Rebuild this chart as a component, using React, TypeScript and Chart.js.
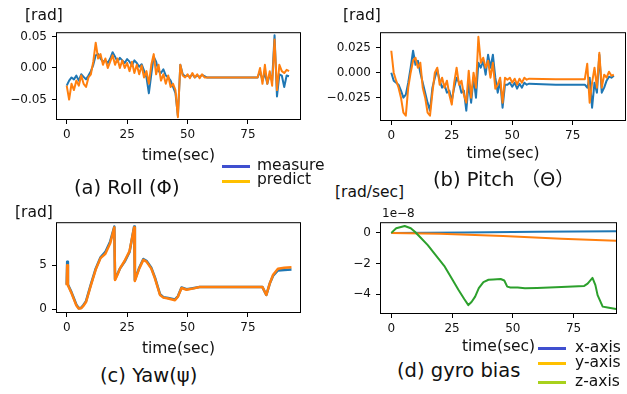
import React, { useEffect, useRef } from "react";
import { Chart, registerables } from "chart.js";

Chart.register(...registerables);
Chart.defaults.font.family = "DejaVu Sans";

// ---------- data ----------
const X_TICKS = [0, 25, 50, 75];
const X_TICK_LABELS = ["0", "25", "50", "75"];

// (a) Roll
const ROLL_TIME = [
  0, 1, 2, 3, 4, 5, 6, 7, 8, 9,
  10, 11, 12, 13, 14, 15, 16, 17, 18, 19,
  20, 21, 22, 23, 24, 25, 26, 27, 28, 29,
  30, 31, 32, 33, 34, 35, 36, 37, 38, 39,
  40, 41, 42, 43, 44, 45, 46, 47, 48, 49,
  50, 51, 52, 53, 54, 55, 56, 57, 58,
  68, 79,
  80, 81, 82, 83, 84, 85, 86, 87, 88, 89, 90, 91, 92,
];
const ROLL_MEASURE = [
  -0.028, -0.02, -0.015, -0.018, -0.012, -0.02, -0.01, -0.014, -0.018, -0.012,
  -0.005, 0.005, 0.02, 0.022, 0.015, 0.01, 0.012, 0.008, 0.015, 0.025,
  0.018, 0.01, 0.016, 0.012, 0.008, 0.014, 0.01, 0.004, 0.012, 0.008,
  0.002, 0.006, -0.004, -0.015, -0.04, -0.01, 0.018, 0.01, -0.005, -0.008,
  -0.002, -0.012, -0.015, -0.02, -0.03, -0.04, -0.076, 0.005, -0.01, -0.013,
  -0.012, -0.014, -0.01, -0.015, -0.012, -0.014, -0.011, -0.013, -0.015,
  -0.015, -0.015,
  -0.005, -0.02, -0.008, -0.025, -0.01, -0.02, 0.052, -0.045, -0.01, -0.012, -0.03, -0.012, -0.013,
];
const ROLL_PREDICT = [
  -0.028, -0.05, -0.025, -0.035, -0.02, -0.028, -0.012, -0.025, -0.03, -0.015,
  -0.01, 0.01, 0.04, 0.015, 0.022, 0.005, 0.015, 0.0, 0.01, 0.02,
  0.005, 0.015, 0.0, 0.012, 0.0, 0.008, -0.005, 0.01, -0.008, 0.005,
  -0.01, 0.004, -0.015, -0.005, -0.025, 0.005, 0.022, -0.01, 0.005, -0.02,
  -0.01, -0.025, -0.012, -0.03, -0.025, -0.035, -0.078, 0.005, -0.012, -0.015,
  -0.01, -0.016, -0.008, -0.015, -0.01, -0.016, -0.01, -0.015, -0.015,
  -0.015, -0.015,
  0.0, -0.025, 0.005, -0.025, -0.005, -0.028, 0.045, -0.035, 0.005, -0.005, -0.008, -0.003, -0.005,
];
const ROLL_Y_TICKS = [0.05, 0, -0.05];
const ROLL_Y_LABELS = ["0.05", "0.00", "\u22120.05"];

// (b) Pitch
const PITCH_TIME = [
  0, 1, 2, 3, 4, 5, 6, 7, 8, 9,
  10, 11, 12, 13, 14, 15, 16, 17, 18, 19,
  20, 21, 22, 23, 24, 25, 26, 27, 28, 29,
  30, 31, 32, 33, 34, 35, 36, 37, 38, 39,
  40, 41, 42, 43, 44, 45, 46, 47, 48, 49,
  50, 51, 52, 53, 54, 55, 56, 57,
  68, 80,
  81, 82, 83, 84, 85, 86, 87, 88, 89, 90, 91, 92,
];
const PITCH_MEASURE = [
  0.0, -0.008, -0.01, -0.012, -0.018, -0.025, -0.022, -0.01, 0.005, 0.022,
  0.008, 0.012, 0.0, -0.01, -0.02, -0.03, -0.038, -0.015, -0.005, 0.003,
  -0.008, -0.015, -0.012, -0.02, -0.018, -0.028, -0.015, -0.005, -0.01, -0.02,
  -0.018, -0.038, -0.01, -0.03, -0.005, -0.025, 0.01, 0.005, 0.012, -0.002,
  0.018, 0.005, 0.018, -0.005, -0.02, -0.008, -0.035, -0.012, -0.012, -0.01,
  -0.014, -0.01, -0.016, -0.011, -0.015, -0.01, -0.012, -0.011,
  -0.012, -0.012,
  -0.015, -0.005, -0.035, -0.01, -0.02, 0.018, -0.02, -0.015, -0.008, -0.004, -0.005, -0.003,
];
const PITCH_PREDICT = [
  0.022, 0.0, -0.008, -0.015, -0.025, -0.04, -0.043, -0.015, 0.0, 0.012,
  0.015, 0.005, 0.01, -0.015, -0.025, -0.04, -0.043, -0.02, 0.0, 0.005,
  -0.012, -0.005, -0.015, -0.008, -0.022, -0.032, -0.01, 0.005, -0.012, -0.008,
  -0.022, -0.03, 0.002, -0.025, 0.0, -0.015, 0.036, 0.01, 0.015, 0.005,
  0.012, -0.005, 0.01, -0.016, -0.012, -0.005, -0.03, -0.005, -0.007, -0.005,
  -0.01, -0.006, -0.012, -0.006, -0.01, -0.005, -0.007, -0.006,
  -0.0065, -0.0065,
  0.009, -0.03, -0.01, 0.005, -0.015, 0.02, -0.015, -0.002, -0.005, 0.001, -0.003, -0.002,
];
const PITCH_Y_TICKS = [0.025, 0, -0.025];
const PITCH_Y_LABELS = ["0.025", "0.000", "\u22120.025"];

// (c) Yaw
const YAW_TIME = [
  0, 0.2, 0.5, 2, 3, 4, 5, 6, 7, 8,
  10, 12, 14, 16, 18, 19.7, 20, 21, 22, 24,
  26, 27.9, 28.2, 30, 31.7, 33, 35, 36.5, 38.6, 40,
  42, 44.8, 46, 47.5, 49.6, 51.6, 55, 60, 70, 81,
  82.6, 84, 85.4, 87.4, 90, 93,
];
const YAW_MEASURE = [
  2.8, 5.4, 2.8, 1.9, 1.2, 0.5, 0.1, 0.15, 0.5, 0.9,
  2.8, 4.6, 5.9, 6.5, 7.7, 9.4, 3.4, 4.0, 4.6, 5.4,
  6.5, 9.4, 3.3, 4.7, 5.7, 5.5, 4.7, 3.6, 1.7, 1.35,
  1.25, 1.1, 1.45, 2.45, 2.25, 2.35, 2.5, 2.5, 2.5, 2.5,
  1.6, 2.9, 3.8, 4.4, 4.45, 4.5,
];
const YAW_PREDICT = [
  2.7, 5.0, 2.7, 1.8, 1.1, 0.4, 0.05, 0.1, 0.4, 0.8,
  2.7, 4.5, 5.8, 6.3, 7.5, 9.3, 3.3, 3.9, 4.6, 5.5,
  6.6, 9.3, 3.2, 4.6, 5.6, 5.4, 4.6, 3.5, 1.6, 1.3,
  1.2, 1.0, 1.4, 2.4, 2.2, 2.3, 2.5, 2.5, 2.5, 2.5,
  1.6, 2.9, 3.9, 4.6, 4.7, 4.75,
];
const YAW_Y_TICKS = [5, 0];
const YAW_Y_LABELS = ["5", "0"];

// (d) gyro bias, values in units of 1e-8 rad/sec
const GYRO_X_TIME = [0, 30, 60, 92.5];
const GYRO_X = [0, 0.03, 0.07, 0.1];
const GYRO_Y_TIME = [0, 20, 46, 70, 92.5];
const GYRO_Y = [0, -0.06, -0.21, -0.38, -0.52];
const GYRO_Z_TIME = [
  0, 2, 5.5, 8, 9.7, 12, 15, 18, 22, 25,
  27.6, 30, 31.7, 33, 34.5, 36, 37.9, 40, 42, 45,
  46.5, 47.7, 49, 52, 55, 60, 70, 79.4, 80.8, 82.8,
  84, 84.9, 87, 89, 92.5,
];
const GYRO_Z = [
  0, 0.3, 0.45, 0.3, 0.07, -0.3, -0.8, -1.4, -2.2, -3.0,
  -3.7, -4.3, -4.7, -4.5, -4.15, -3.6, -3.2, -3.05, -3.03, -3.0,
  -3.1, -3.5, -3.55, -3.55, -3.6, -3.58, -3.52, -3.45, -3.3, -2.93,
  -3.4, -4.05, -4.8, -4.85, -4.95,
];
const GYRO_Y_TICKS = [0, -2, -4];
const GYRO_Y_LABELS = ["0", "\u22122", "\u22124"];

// ---------- styling ----------
const C_BLUE = "#1f77b4";
const C_ORANGE = "#ff7f0e";
const C_GREEN = "#2ca02c";

type Series = { time: number[]; values: number[]; color: string; order: number; width: number };
type PlotSpec = {
  x: number; y: number; w: number; h: number;
  yAxisWidth: number; xAxisHeight: number; padTop: number; padRight: number;
  xMin: number; xMax: number; yMin: number; yMax: number;
  yTicks: number[]; yLabels: string[];
  series: Series[];
};

const framePlugin = {
  id: "frame",
  afterDatasetsDraw(chart: any) {
    const { ctx, chartArea: a } = chart;
    ctx.save();
    ctx.strokeStyle = "#000";
    ctx.lineWidth = 1;
    ctx.strokeRect(a.left + 0.5, a.top + 0.5, a.right - a.left - 1, a.bottom - a.top - 1);
    ctx.restore();
  },
};

function Plot({ spec }: { spec: PlotSpec }) {
  const ref = useRef<HTMLCanvasElement | null>(null);
  useEffect(() => {
    if (!ref.current) return;
    const tickFont = { family: "DejaVu Sans", size: 12 };
    const chart = new Chart(ref.current, {
      type: "line",
      data: {
        datasets: spec.series.map((s) => ({
          data: s.time.map((t, i) => ({ x: t, y: s.values[i] })),
          borderColor: s.color,
          backgroundColor: s.color,
          borderWidth: s.width,
          borderJoinStyle: "round" as const,
          pointRadius: 0,
          tension: 0,
          fill: false,
          order: s.order,
        })),
      },
      options: {
        animation: false,
        responsive: false,
        devicePixelRatio: 1,
        events: [],
        layout: { padding: { top: spec.padTop, right: spec.padRight, left: 0, bottom: 0 } },
        plugins: { legend: { display: false }, tooltip: { enabled: false } },
        scales: {
          x: {
            type: "linear",
            min: spec.xMin,
            max: spec.xMax,
            afterBuildTicks: (s: any) => {
              s.ticks = X_TICKS.map((v) => ({ value: v }));
            },
            afterFit: (s: any) => {
              s.height = spec.xAxisHeight;
            },
            ticks: {
              font: tickFont,
              color: "#111",
              padding: 4,
              maxRotation: 0,
              autoSkip: false,
              callback: (_v: any, i: number) => X_TICK_LABELS[i],
            },
            grid: { drawOnChartArea: false, drawTicks: true, tickLength: 4, color: "#000", lineWidth: 1 },
            border: { display: false },
            title: {
              display: true,
              text: "time(sec)",
              font: { family: "DejaVu Sans", size: 15.5 },
              color: "#111",
              padding: 0,
            },
          },
          y: {
            type: "linear",
            min: spec.yMin,
            max: spec.yMax,
            afterBuildTicks: (s: any) => {
              s.ticks = spec.yTicks.map((v) => ({ value: v }));
            },
            afterFit: (s: any) => {
              s.width = spec.yAxisWidth;
            },
            ticks: {
              font: tickFont,
              color: "#111",
              padding: 5,
              autoSkip: false,
              callback: (_v: any, i: number) => spec.yLabels[i],
            },
            grid: { drawOnChartArea: false, drawTicks: true, tickLength: 4, color: "#000", lineWidth: 1 },
            border: { display: false },
          },
        },
      },
      plugins: [framePlugin],
    } as any);
    return () => chart.destroy();
  }, [spec]);
  return (
    <canvas
      ref={ref}
      width={spec.w}
      height={spec.h}
      style={{ position: "absolute", left: spec.x, top: spec.y, width: spec.w, height: spec.h }}
    />
  );
}

const PLOTS: PlotSpec[] = [
  {
    x: 0, y: 20, w: 310, h: 145, yAxisWidth: 56, xAxisHeight: 45, padTop: 10, padRight: 9,
    xMin: -4.43, xMax: 96.94, yMin: -0.0824, yMax: 0.0567,
    yTicks: ROLL_Y_TICKS, yLabels: ROLL_Y_LABELS,
    series: [
      { time: ROLL_TIME, values: ROLL_MEASURE, color: C_BLUE, order: 2, width: 2 },
      { time: ROLL_TIME, values: ROLL_PREDICT, color: C_ORANGE, order: 1, width: 2 },
    ],
  },
  {
    x: 320, y: 20, w: 307, h: 143, yAxisWidth: 60, xAxisHeight: 42, padTop: 9, padRight: 1,
    xMin: -4.67, xMax: 97.02, yMin: -0.0484, yMax: 0.0406,
    yTicks: PITCH_Y_TICKS, yLabels: PITCH_Y_LABELS,
    series: [
      { time: PITCH_TIME, values: PITCH_MEASURE, color: C_BLUE, order: 2, width: 2 },
      { time: PITCH_TIME, values: PITCH_PREDICT, color: C_ORANGE, order: 1, width: 2 },
    ],
  },
  {
    x: 0, y: 210, w: 310, h: 148, yAxisWidth: 56, xAxisHeight: 45, padTop: 12, padRight: 9,
    xMin: -4.43, xMax: 96.94, yMin: -0.45, yMax: 9.89,
    yTicks: YAW_Y_TICKS, yLabels: YAW_Y_LABELS,
    series: [
      { time: YAW_TIME, values: YAW_MEASURE, color: C_BLUE, order: 2, width: 2.5 },
      { time: YAW_TIME, values: YAW_PREDICT, color: C_ORANGE, order: 1, width: 2.5 },
    ],
  },
  {
    x: 320, y: 210, w: 300, h: 146, yAxisWidth: 60, xAxisHeight: 42, padTop: 12, padRight: 3,
    xMin: -4.67, xMax: 92.89, yMin: -5.28, yMax: 0.695,
    yTicks: GYRO_Y_TICKS, yLabels: GYRO_Y_LABELS,
    series: [
      { time: GYRO_X_TIME, values: GYRO_X, color: C_BLUE, order: 3, width: 2 },
      { time: GYRO_Y_TIME, values: GYRO_Y, color: C_ORANGE, order: 2, width: 2 },
      { time: GYRO_Z_TIME, values: GYRO_Z, color: C_GREEN, order: 1, width: 2 },
    ],
  },
];

// ---------- annotations ----------
type Label = { text: string; x: number; cy: number; size: number };
const LABELS: Label[] = [
  { text: "[rad]", x: 25, cy: 16, size: 15.5 },
  { text: "[rad]", x: 343, cy: 16, size: 15.5 },
  { text: "[rad]", x: 15, cy: 213, size: 15.5 },
  { text: "[rad/sec]", x: 335, cy: 193, size: 15.5 },
  { text: "1e\u22128", x: 382, cy: 213, size: 12 },
  { text: "(a) Roll (\u03a6)", x: 74, cy: 188, size: 19.5 },
  { text: "(b) Pitch \uff08\u0398\uff09", x: 433, cy: 180, size: 19.5 },
  { text: "(c) Yaw(\u03c8)", x: 100, cy: 376, size: 19.5 },
  { text: "(d) gyro bias", x: 397, cy: 371, size: 19.5 },
];

const LEGEND_A = [
  { text: "measure", color: "#3f4fcf", cy: 166.5 },
  { text: "predict", color: "#ffc000", cy: 181 },
];
const LEGEND_D = [
  { text: "x-axis", color: "#3f4fcf", cy: 348.5 },
  { text: "y-axis", color: "#ffc000", cy: 363.5 },
  { text: "z-axis", color: "#a8d11c", cy: 382.5 },
];

function Legend({ items, lineX, textX }: { items: { text: string; color: string; cy: number }[]; lineX: number; textX: number }) {
  return (
    <>
      {items.map((it, i) => (
        <React.Fragment key={i}>
          <div style={{ position: "absolute", left: lineX, top: it.cy - 1.5, width: 28, height: 3, background: it.color }} />
          <div
            style={{
              position: "absolute", left: textX, top: it.cy - 1, transform: "translateY(-50%)",
              fontFamily: "DejaVu Sans", fontSize: 15.5, lineHeight: 1, whiteSpace: "nowrap", color: "#111",
            }}
          >
            {it.text}
          </div>
        </React.Fragment>
      ))}
    </>
  );
}

export default function App() {
  return (
    <div style={{ position: "absolute", left: 0, top: 0, width: 627, height: 394, background: "#fff", overflow: "hidden" }}>
      {PLOTS.map((p, i) => (
        <Plot key={i} spec={p} />
      ))}
      {LABELS.map((l, i) => (
        <div
          key={i}
          style={{
            position: "absolute", left: l.x, top: l.cy, transform: "translateY(-50%)",
            fontFamily: "'DejaVu Sans', 'Noto Sans CJK JP'", fontSize: l.size, lineHeight: 1,
            whiteSpace: "nowrap", color: "#111",
          }}
        >
          {l.text}
        </div>
      ))}
      <Legend items={LEGEND_A} lineX={222} textX={257} />
      <Legend items={LEGEND_D} lineX={538} textX={575} />
    </div>
  );
}
